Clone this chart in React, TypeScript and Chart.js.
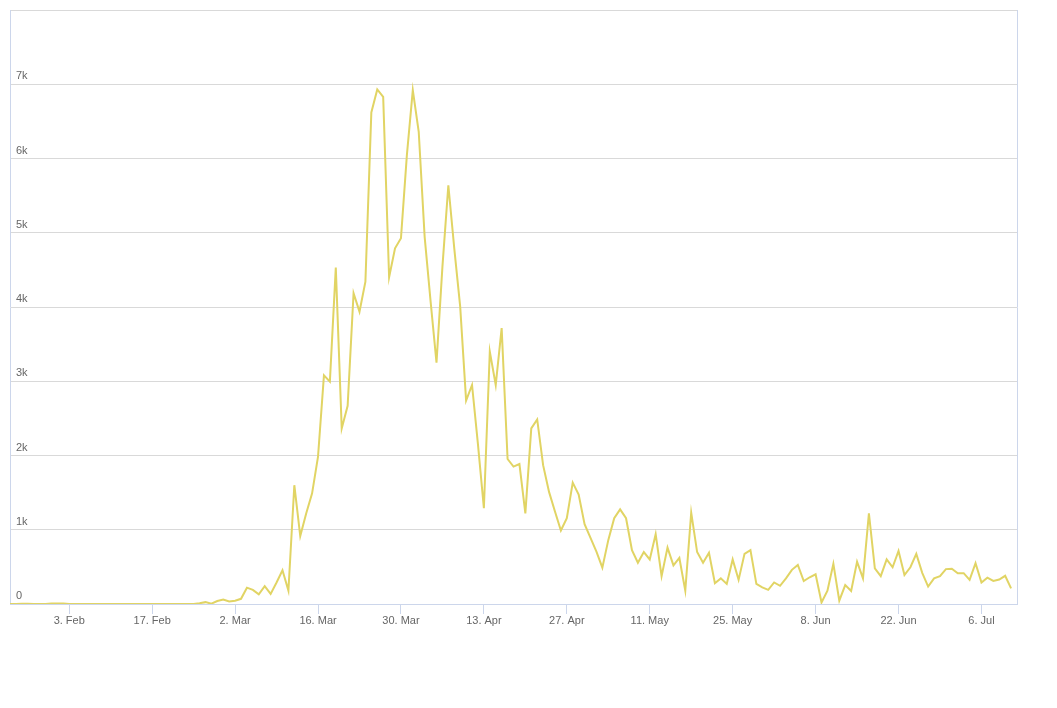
import React, { useEffect, useRef } from "react";
import { Chart, registerables } from "chart.js";

Chart.register(...registerables);

// Day offsets are counted from 3 Feb (day 0); the series starts on 24 Jan.
const firstDay = -10;

const janValues = [0, 0, 3, 3, 0, 0, 0, 8];
const febValues = [
  8, 8, 0, 0, 0, 0, 0, 0, 0, 0, 0, 0, 0, 0, 0, 0, 0, 0, 0, 0, 0, 0, 0, 0, 10, 25, 5, 40, 60,
];
const marValues = [
  35, 45, 70, 220, 190, 130, 240, 135, 290, 455, 180, 1600, 915, 1220, 1490, 1985, 3080, 2995,
  4530, 2365, 2670, 4185, 3937, 4340, 6620, 6930, 6830, 4400, 4790, 4925, 6045,
];
const aprValues = [
  6920, 6360, 4945, 4080, 3250, 4540, 5640, 4790, 4005, 2740, 2950, 2150, 1290, 3400, 2950, 3715,
  1953, 1850, 1885, 1220, 2365, 2485, 1870, 1510, 1245, 990, 1155, 1635, 1475, 1075,
];
const mayValues = [
  890, 705, 490, 860, 1155, 1275, 1155, 725, 555, 700, 600, 940, 375, 760, 520, 620, 180, 1230,
  700, 555, 690, 280, 345, 270, 600, 325, 675, 725, 270, 225, 190,
];
const junValues = [
  290, 245, 345, 460, 525, 310, 360, 400, 20, 180, 540, 45, 255, 175, 570, 345, 1220, 480, 375,
  600, 495, 715, 390, 495, 675, 420, 235, 345, 375, 470,
];
const julValues = [475, 415, 415, 325, 550, 290, 355, 310, 330, 380, 210];

const tickDays = [0, 14, 28, 42, 56, 70, 84, 98, 112, 126, 140, 154];
const tickLabels = [
  "3. Feb", "17. Feb", "2. Mar", "16. Mar", "30. Mar", "13. Apr",
  "27. Apr", "11. May", "25. May", "8. Jun", "22. Jun", "6. Jul",
];

const yMin = 0;
const yMax = 8000;
const yStep = 1000;

const lineColor = "rgb(225, 212, 100)";
const axisColor = "#ccd6eb";
const gridColor = "#d9d9d9";
const labelColor = "#666666";
const fontFamily = "'Liberation Sans', Arial, Helvetica, sans-serif";

const formatK = (v: number) => (v === 0 ? "0" : v / 1000 + "k");

export default function App() {
  const ref = useRef<HTMLCanvasElement>(null);

  useEffect(() => {
    const values = [
      ...janValues, ...febValues, ...marValues, ...aprValues,
      ...mayValues, ...junValues, ...julValues,
    ];
    const points = values.map((v, i) => ({ x: firstDay + i, y: v }));

    const chart = new Chart(ref.current as HTMLCanvasElement, {
      type: "line",
      data: {
        datasets: [
          {
            data: points,
            borderColor: lineColor,
            backgroundColor: lineColor,
            borderWidth: 2,
            pointRadius: 0,
            pointHoverRadius: 0,
            tension: 0,
            fill: false,
          },
        ],
      },
      options: {
        animation: false,
        responsive: true,
        maintainAspectRatio: false,
        layout: { padding: { left: 2, right: 32, top: 10, bottom: 0 } },
        plugins: {
          legend: { display: false },
          tooltip: { enabled: false },
        },
        scales: {
          x: {
            type: "linear",
            min: -10,
            max: 160,
            afterBuildTicks: (scale: any) => {
              scale.ticks = tickDays.map((v) => ({ value: v }));
            },
            afterFit: (scale: any) => {
              scale.height = 44;
              scale.paddingLeft = 0;
              scale.paddingRight = 0;
            },
            grid: {
              drawOnChartArea: false,
              drawTicks: true,
              tickLength: 10,
              color: axisColor,
            },
            border: { color: axisColor, width: 1 },
            ticks: {
              autoSkip: false,
              maxRotation: 0,
              padding: 0,
              color: labelColor,
              font: { size: 11, family: fontFamily },
              callback: (_v: any, i: number) => tickLabels[i],
            },
          },
          y: {
            min: yMin,
            max: yMax,
            afterBuildTicks: (scale: any) => {
              const t = [];
              for (let v = yMin; v <= yMax; v += yStep) t.push({ value: v });
              scale.ticks = t;
            },
            afterFit: (scale: any) => {
              scale.width = 0;
              scale.paddingTop = 0;
              scale.paddingBottom = 0;
            },
            grid: {
              drawTicks: false,
              color: (ctx: any) => (ctx.tick && ctx.tick.value === 0 ? "rgba(0,0,0,0)" : gridColor),
            },
            border: { color: axisColor, width: 1 },
            ticks: {
              autoSkip: false,
              mirror: true,
              padding: 6,
              labelOffset: -8,
              color: labelColor,
              font: { size: 11, family: fontFamily },
              callback: (v: any) => formatK(Number(v)),
            },
          },
          y2: {
            position: "right",
            min: yMin,
            max: yMax,
            afterFit: (scale: any) => {
              scale.width = 0;
              scale.paddingTop = 0;
              scale.paddingBottom = 0;
            },
            grid: { display: false, drawTicks: false },
            ticks: { display: false },
            border: { display: true, color: axisColor, width: 1 },
          },
        },
      },
    } as any);

    return () => chart.destroy();
  }, []);

  return (
    <div style={{ position: "relative", width: "100%", height: 648, marginTop: -8 }}>
      <canvas ref={ref} />
    </div>
  );
}
